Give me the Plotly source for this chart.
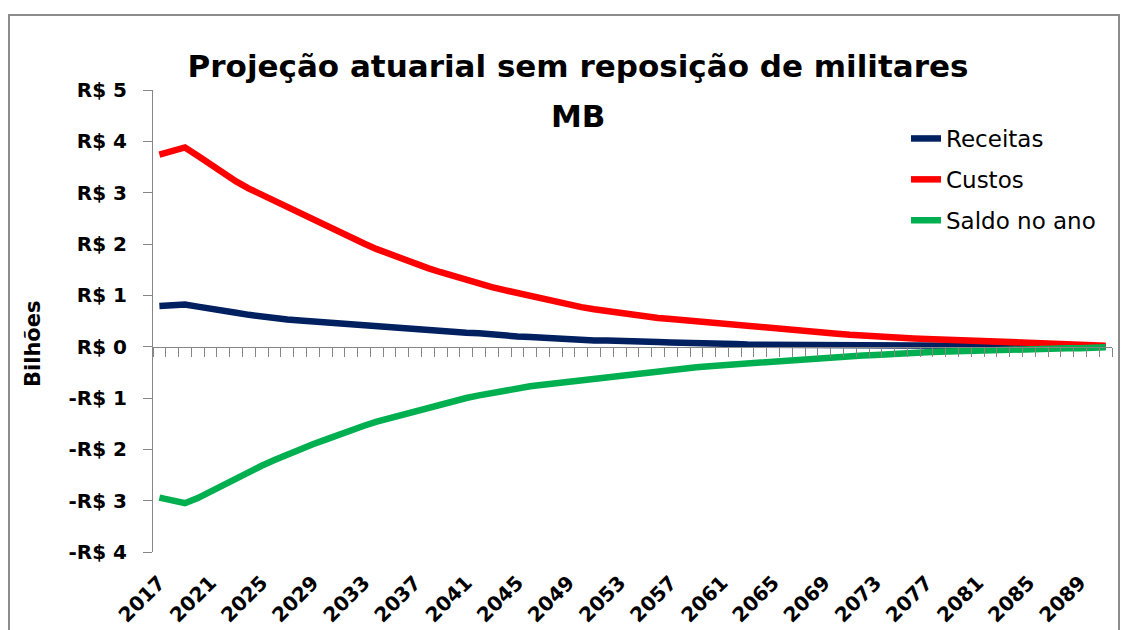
import plotly.graph_objects as go

# Anos da projeção
anos = list(range(2017, 2092))

# Valores anuais em bilhões de reais
receitas = [0.79, 0.82, 0.82, 0.78, 0.73, 0.69, 0.66, 0.62, 0.58, 0.56,
            0.53, 0.51, 0.49, 0.47, 0.44, 0.42, 0.41, 0.40, 0.38, 0.36,
            0.33, 0.31, 0.30, 0.29, 0.27, 0.26, 0.23, 0.21, 0.20, 0.19,
            0.17, 0.16, 0.15, 0.14, 0.12, 0.12, 0.12, 0.10, 0.09, 0.09,
            0.08, 0.08, 0.08, 0.07, 0.05, 0.05, 0.04, 0.04, 0.04, 0.04,
            0.04, 0.03, 0.03, 0.03, 0.03, 0.03, 0.02, 0.02, 0.02, 0.02,
            0.02, 0.01, 0.01, 0.01, 0.01, 0.01, 0.01, 0.01, 0.01, 0.00,
            0.00, 0.00, 0.00, 0.00, 0.00]

custos = [3.74, 3.82, 3.88, 3.72, 3.55, 3.38, 3.22, 3.08, 2.96, 2.83,
          2.71, 2.59, 2.47, 2.34, 2.23, 2.12, 2.01, 1.90, 1.80, 1.71,
          1.62, 1.53, 1.45, 1.37, 1.29, 1.23, 1.16, 1.10, 1.04, 0.98,
          0.92, 0.87, 0.82, 0.77, 0.73, 0.69, 0.66, 0.62, 0.59, 0.56,
          0.54, 0.52, 0.49, 0.46, 0.43, 0.41, 0.39, 0.37, 0.35, 0.33,
          0.31, 0.29, 0.27, 0.25, 0.23, 0.21, 0.20, 0.19, 0.18, 0.16,
          0.15, 0.14, 0.13, 0.12, 0.11, 0.10, 0.09, 0.08, 0.07, 0.06,
          0.06, 0.05, 0.04, 0.03, 0.02]

saldo = [-2.94, -2.99, -3.05, -2.95, -2.82, -2.69, -2.56, -2.44, -2.32, -2.21,
         -2.10, -1.99, -1.90, -1.81, -1.71, -1.63, -1.54, -1.46, -1.39, -1.32,
         -1.25, -1.18, -1.11, -1.05, -1.00, -0.95, -0.90, -0.86, -0.81, -0.77,
         -0.74, -0.71, -0.68, -0.64, -0.61, -0.58, -0.55, -0.52, -0.49, -0.47,
         -0.45, -0.43, -0.40, -0.38, -0.36, -0.34, -0.32, -0.31, -0.29, -0.27,
         -0.25, -0.23, -0.22, -0.20, -0.18, -0.17, -0.16, -0.14, -0.13, -0.12,
         -0.11, -0.10, -0.09, -0.09, -0.08, -0.07, -0.06, -0.06, -0.05, -0.05,
         -0.04, -0.03, -0.03, -0.02, -0.01]

# Rótulos dos eixos
rotulos_anos = list(range(2017, 2090, 4))
valores_y = [-4, -3, -2, -1, 0, 1, 2, 3, 4, 5]
rotulos_y = ["-R$ 4", "-R$ 3", "-R$ 2", "-R$ 1", "R$ 0",
             "R$ 1", "R$ 2", "R$ 3", "R$ 4", "R$ 5"]

FONTE = "DejaVu Sans"
CINZA = "#868686"

# área de plotagem, em pixels
ESQ, DIR, TOPO, BASE = 153, 1112, 90, 552
LARG, ALT = DIR - ESQ, BASE - TOPO


def px_x(p):
    return (p - ESQ) / LARG


def px_y(p):
    return (BASE - p) / ALT


series = [
    ("Receitas", receitas, "#002060"),
    ("Custos", custos, "#FF0000"),
    ("Saldo no ano", saldo, "#00B050"),
]

fig = go.Figure()
for nome, valores, cor in series:
    fig.add_trace(go.Scatter(
        x=anos, y=valores, name=nome, mode="lines",
        line=dict(color=cor, width=6.5),
        legendgroup=nome,
    ))

# traço vazio que ancora o eixo de rótulos inferior
fig.add_trace(go.Scatter(x=[None], y=[None], xaxis="x2", showlegend=False,
                         hoverinfo="skip"))

x_min, x_max = anos[0] - 0.5, anos[-1] + 0.5
y_min, y_max = valores_y[0], valores_y[-1]

fig.update_layout(
    width=1131, height=630,
    margin=dict(l=ESQ, r=1131 - DIR, t=TOPO, b=630 - BASE, autoexpand=False),
    paper_bgcolor="white", plot_bgcolor="white",
    font=dict(family=FONTE, color="black"),
    title=dict(
        text="Projeção atuarial sem reposição de militares",
        font=dict(family=FONTE, size=31, weight="bold", color="black"),
        xref="container", yref="container",
        x=578 / 1131, xanchor="center",
        y=1 - 66 / 630, yanchor="middle",
    ),
    showlegend=True,
    legend=dict(
        xref="paper", yref="paper",
        x=px_x(906), xanchor="left",
        y=px_y(117), yanchor="top",
        font=dict(family=FONTE, size=23, color="black"),
        bgcolor="rgba(0,0,0,0)",
        tracegroupgap=8,
        traceorder="grouped",
    ),
    # eixo das categorias, cruzando o eixo vertical em zero
    xaxis=dict(
        range=[x_min, x_max],
        anchor="free", position=(0 - y_min) / (y_max - y_min),
        showline=True, linecolor=CINZA, linewidth=1,
        ticks="outside", ticklen=9, tickcolor=CINZA, tickwidth=1,
        tickvals=[x_min + k for k in range(len(anos) + 1)],
        showticklabels=False, showgrid=False, zeroline=False,
    ),
    # rótulos dos anos na base do gráfico
    xaxis2=dict(
        range=[x_min, x_max], overlaying="x", anchor="y", side="bottom",
        showline=False, ticks="", showgrid=False, zeroline=False,
        tickvals=rotulos_anos, ticktext=[str(a) for a in rotulos_anos],
        tickangle=-45, ticklabelstandoff=14,
        tickfont=dict(family=FONTE, size=20, weight="bold", color="black"),
    ),
    yaxis=dict(
        range=[y_min, y_max],
        tickvals=valores_y, ticktext=rotulos_y,
        tickfont=dict(family=FONTE, size=20, weight="bold", color="black"),
        showline=True, linecolor=CINZA, linewidth=1,
        ticks="outside", ticklen=9, tickcolor=CINZA,
        showgrid=False, zeroline=False,
        ticklabelstandoff=12,
    ),
    annotations=[
        dict(text="MB", xref="paper", yref="paper",
             x=px_x(578), y=px_y(116),
             xanchor="center", yanchor="middle", showarrow=False,
             font=dict(family=FONTE, size=31, weight="bold", color="black")),
        dict(text="Bilhões", xref="paper", yref="paper",
             x=px_x(33), y=px_y(343), textangle=-90,
             xanchor="center", yanchor="middle", showarrow=False,
             font=dict(family=FONTE, size=21, weight="bold", color="black")),
    ],
    shapes=[dict(
        type="rect", xref="paper", yref="paper",
        x0=px_x(9), x1=px_x(1119),
        y0=px_y(640), y1=px_y(15),
        line=dict(color="#8c8c8c", width=2), fillcolor="rgba(0,0,0,0)",
        layer="below",
    )],
)

fig.write_html("out.html")
